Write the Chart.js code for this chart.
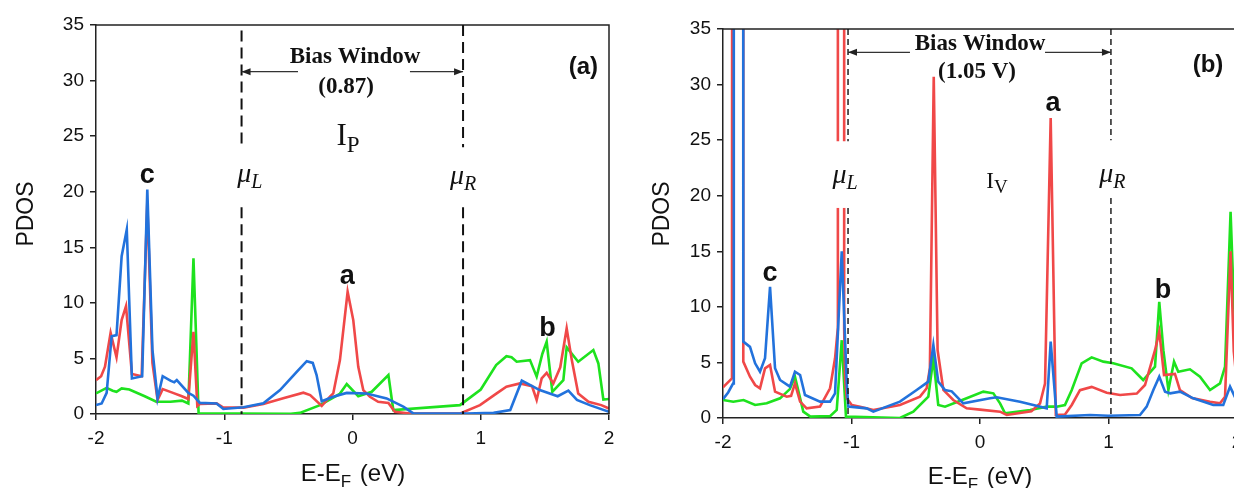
<!DOCTYPE html>
<html>
<head>
<meta charset="utf-8">
<script src="https://cdn.jsdelivr.net/npm/chart.js@4.4.0/dist/chart.umd.min.js"></script>
<style>
  html, body { margin: 0; padding: 0; background: #fff; overflow: hidden; }
  body { width: 1234px; height: 488px; position: relative; }
  canvas { position: absolute; top: 0; }
  #pdosA { left: 0; }
  #pdosB { left: 617px; }
</style>
</head>
<body>
<canvas id="pdosA" width="617" height="488"></canvas>
<canvas id="pdosB" width="640" height="488"></canvas>
<script>
// axis ticks shared by both panels
const energyTicks = [-2, -1, 0, 1, 2];
const pdosTicks = [0, 5, 10, 15, 20, 25, 30, 35];

// panel (a): [E - EF (eV), PDOS]
const blueA = [
    [-2, 0.8], [-1.956, 0.95], [-1.917, 1.9], [-1.878, 7.0], [-1.84, 7.1], [-1.8, 14.2], [-1.76, 16.6],
    [-1.72, 3.2], [-1.64, 3.4], [-1.6, 20.2], [-1.56, 5.8], [-1.52, 1.4], [-1.48, 3.4], [-1.42, 3.0],
    [-1.39, 2.85], [-1.37, 3.05], [-1.28, 1.9], [-1.24, 1.65], [-1.19, 1.0], [-1.06, 0.95], [-1.007, 0.45],
    [-0.85, 0.6], [-0.695, 0.96], [-0.565, 2.15], [-0.435, 3.8], [-0.357, 4.75], [-0.31, 4.6], [-0.28, 3.5],
    [-0.24, 1.15], [-0.15, 1.55], [-0.045, 1.9], [0.11, 1.85], [0.266, 1.4], [0.396, 0.66], [0.474, 0.05],
    [0.89, 0.05], [1.1, 0.1], [1.23, 0.36], [1.32, 3.0], [1.46, 2.15], [1.6, 1.6], [1.683, 2.1], [1.75, 1.26],
    [1.85, 0.8], [2.0, 0.2]
];
const redA = [
    [-2, 3.05], [-1.96, 3.4], [-1.93, 4.25], [-1.886, 7.3], [-1.84, 5.1], [-1.8, 8.45], [-1.766, 9.7],
    [-1.72, 3.6], [-1.644, 3.4], [-1.6, 19.0], [-1.56, 4.6], [-1.52, 1.26], [-1.48, 2.24], [-1.4, 1.9],
    [-1.33, 1.6], [-1.28, 1.35], [-1.24, 7.4], [-1.21, 0.72], [-1.19, 0.9], [-1.06, 0.96], [-1.007, 0.57],
    [-0.85, 0.57], [-0.695, 0.9], [-0.54, 1.41], [-0.383, 1.92], [-0.33, 1.7], [-0.24, 0.72], [-0.176, 1.56],
    [-0.15, 1.85], [-0.098, 4.85], [-0.038, 11.0], [0.006, 8.45], [0.045, 4.25], [0.084, 2.15], [0.136, 1.55],
    [0.2, 1.1], [0.28, 1.0], [0.33, 0.2], [0.45, 0.05], [0.84, 0.05], [0.994, 0.8], [1.124, 1.85], [1.2, 2.45],
    [1.306, 2.75], [1.4, 2.5], [1.436, 1.26], [1.475, 3.2], [1.514, 3.7], [1.566, 2.75], [1.62, 4.2],
    [1.67, 7.7], [1.71, 4.85], [1.76, 1.85], [1.84, 1.1], [1.94, 0.8], [2.0, 0.5]
];
const greenA = [
    [-2, 1.85], [-1.917, 2.35], [-1.87, 2.1], [-1.84, 2.0], [-1.8, 2.3], [-1.74, 2.2], [-1.62, 1.6],
    [-1.53, 1.1], [-1.42, 1.1], [-1.33, 1.2], [-1.28, 0.95], [-1.24, 14.0], [-1.2, 0.06], [-0.9, 0.03],
    [-0.48, 0.02], [-0.41, 0.1], [-0.253, 0.8], [-0.1, 1.8], [-0.045, 2.7], [0.045, 1.6], [0.15, 2.0],
    [0.28, 3.5], [0.318, 0.36], [0.838, 0.8], [1.0, 2.2], [1.12, 4.4], [1.2, 5.2], [1.24, 5.1], [1.28, 4.7],
    [1.384, 4.85], [1.436, 3.36], [1.48, 5.4], [1.514, 6.5], [1.558, 2.0], [1.644, 3.05], [1.67, 6.0],
    [1.76, 4.7], [1.878, 5.75], [1.917, 4.55], [1.956, 1.3], [2.0, 1.35]
];

// panel (b): [E - EF (eV), PDOS]; the 400 points run far above the axis top
const blueB = [
    [-2, 1.7], [-1.96, 2.3], [-1.922, 3.1], [-1.916, 400], [-1.846, 400], [-1.842, 6.87], [-1.79, 6.4],
    [-1.75, 4.92], [-1.712, 4.17], [-1.673, 5.37], [-1.634, 11.8], [-1.595, 4.47], [-1.556, 3.42],
    [-1.479, 2.82], [-1.44, 4.17], [-1.4, 3.87], [-1.362, 2.07], [-1.245, 1.47], [-1.167, 1.47],
    [-1.128, 2.22], [-1.076, 15.0], [-1.037, 3.12], [-1.025, 1.02], [-0.882, 0.87], [-0.83, 0.57],
    [-0.623, 1.47], [-0.493, 2.52], [-0.402, 3.27], [-0.363, 6.57], [-0.325, 3.27], [-0.272, 2.52],
    [-0.22, 2.4], [-0.13, 1.32], [0.078, 1.77], [0.13, 1.86], [0.311, 1.47], [0.415, 1.17], [0.519, 0.87],
    [0.55, 6.87], [0.597, 0.12], [0.856, 0.27], [1.0, 0.2], [1.245, 0.27], [1.297, 1.02], [1.349, 2.52],
    [1.395, 3.72], [1.44, 2.37], [1.48, 2.22], [1.556, 2.37], [1.66, 1.77], [1.815, 1.17], [1.893, 1.17],
    [1.946, 2.82], [2.0, 1.5]
];
const redB = [
    [-2, 2.75], [-1.93, 3.57], [-1.918, 400], [-1.846, 400], [-1.842, 5.07], [-1.79, 3.72], [-1.75, 2.97],
    [-1.712, 2.67], [-1.673, 4.47], [-1.634, 4.77], [-1.595, 2.37], [-1.504, 1.92], [-1.47, 2.0],
    [-1.44, 3.12], [-1.4, 1.47], [-1.349, 0.87], [-1.245, 1.02], [-1.167, 2.67], [-1.128, 5.37],
    [-1.107, 8.0], [-1.106, 400], [-1.058, 400], [-1.057, 8.0], [-1.05, 3.5], [-1.037, 1.77], [-0.998, 1.17],
    [-0.934, 1.02], [-0.83, 0.72], [-0.623, 1.17], [-0.467, 1.92], [-0.415, 2.67], [-0.39, 4.47],
    [-0.36, 30.7], [-0.33, 6.1], [-0.285, 2.52], [-0.208, 1.62], [-0.104, 0.87], [0.0, 0.75], [0.156, 0.57],
    [0.208, 0.27], [0.4, 0.6], [0.467, 1.3], [0.506, 3.1], [0.55, 27.0], [0.59, 0.27], [0.66, 0.3],
    [0.714, 1.17], [0.778, 2.5], [0.869, 2.8], [0.986, 2.28], [1.09, 2.07], [1.22, 2.2], [1.284, 2.97],
    [1.362, 6.1], [1.395, 7.77], [1.432, 3.87], [1.517, 3.96], [1.556, 2.5], [1.65, 1.8], [1.79, 1.47],
    [1.868, 1.32], [1.907, 1.92], [1.95, 15.0], [1.975, 6.0], [2.0, 3.0]
];
const greenB = [
    [-2, 1.62], [-1.92, 1.47], [-1.84, 1.62], [-1.75, 1.17], [-1.66, 1.32], [-1.556, 1.77], [-1.48, 2.6],
    [-1.44, 3.72], [-1.375, 0.57], [-1.32, 0.12], [-1.167, 0.17], [-1.115, 0.72], [-1.076, 7.0],
    [-1.043, 0.12], [-0.623, 0.0], [-0.519, 0.57], [-0.402, 1.92], [-0.363, 5.37], [-0.325, 1.17],
    [-0.272, 1.02], [-0.104, 1.77], [0.026, 2.37], [0.104, 2.22], [0.156, 1.32], [0.195, 0.42], [0.39, 0.72],
    [0.519, 1.02], [0.597, 1.02], [0.661, 1.17], [0.714, 2.52], [0.791, 4.92], [0.869, 5.46], [0.96, 5.07],
    [1.037, 4.92], [1.18, 4.47], [1.27, 3.42], [1.362, 4.62], [1.395, 10.46], [1.427, 6.1], [1.466, 2.52],
    [1.51, 5.07], [1.543, 4.17], [1.634, 4.38], [1.712, 3.72], [1.79, 2.52], [1.868, 3.12], [1.907, 4.62],
    [1.95, 18.56], [1.972, 11.5], [2.0, 5.0]
];

// chemical potentials of the leads
const muA = [-0.865, 0.862];
const muB = [-1.027, 1.019];

const SANS = '"Liberation Sans", Arial, sans-serif';
const SERIF = '"Liberation Serif", "Times New Roman", serif';
const BLUE = '#2272dc';
const RED = '#f04848';
const GREEN = '#1ee21e';

function toPoints(arr) {
    return arr.map(p => ({x: p[0], y: p[1]}));
}

// draws a run of text pieces (with optional subscripts) centred on cx
function drawPieces(ctx, pieces, cx, baseY) {
    let total = 0;
    pieces.forEach(p => { ctx.font = p.font; total += ctx.measureText(p.t).width + (p.gap || 0); });
    let px = cx - total / 2;
    ctx.textAlign = 'left';
    ctx.textBaseline = 'alphabetic';
    pieces.forEach(p => {
        ctx.font = p.font;
        ctx.fillText(p.t, px, baseY + (p.dy || 0));
        px += ctx.measureText(p.t).width + (p.gap || 0);
    });
}

function arrow(ctx, x1, x2, y, dir) {
    ctx.beginPath();
    ctx.moveTo(x1, y);
    ctx.lineTo(x2, y);
    ctx.stroke();
    const tip = dir < 0 ? x1 : x2;
    ctx.beginPath();
    ctx.moveTo(tip, y);
    ctx.lineTo(tip - dir * 9, y - 3.5);
    ctx.lineTo(tip - dir * 9, y + 3.5);
    ctx.closePath();
    ctx.fill();
}

const pdosMarks = {
    id: 'pdosMarks',
    afterDatasetsDraw(chart, args, o) {
        const {ctx, chartArea: a, scales: {x, y}} = chart;
        ctx.save();

        // top and right edges of the frame
        ctx.strokeStyle = '#222';
        ctx.lineWidth = 1.5;
        ctx.beginPath();
        ctx.moveTo(a.left, a.top);
        ctx.lineTo(a.right, a.top);
        ctx.lineTo(a.right, a.bottom);
        ctx.stroke();

        // white box behind the mu_L label
        if (o.mask) {
            const mx1 = x.getPixelForValue(o.mask[0]), mx2 = x.getPixelForValue(o.mask[1]);
            const my1 = y.getPixelForValue(o.mask[3]), my2 = y.getPixelForValue(o.mask[2]);
            ctx.fillStyle = '#fff';
            ctx.fillRect(mx1, my1, mx2 - mx1, my2 - my1);
        }

        // dashed mu_L / mu_R lines, broken around their labels
        ctx.strokeStyle = '#111';
        ctx.lineWidth = o.dashWidth;
        ctx.setLineDash(o.dash);
        o.mu.forEach((m, i) => {
            const px = x.getPixelForValue(m);
            o.muSegments[i].forEach(s => {
                ctx.beginPath();
                ctx.moveTo(px, y.getPixelForValue(s[0]));
                ctx.lineTo(px, y.getPixelForValue(s[1]));
                ctx.stroke();
            });
        });
        ctx.setLineDash([]);

        // bias window arrows
        ctx.strokeStyle = '#333';
        ctx.fillStyle = '#222';
        ctx.lineWidth = 1.3;
        const ay = y.getPixelForValue(o.arrowY);
        arrow(ctx, x.getPixelForValue(o.mu[0]), x.getPixelForValue(o.arrowGap[0]), ay, -1);
        arrow(ctx, x.getPixelForValue(o.arrowGap[1]), x.getPixelForValue(o.mu[1]), ay, 1);

        ctx.fillStyle = '#111';
        o.labels.forEach(l => {
            drawPieces(ctx, l.pieces, x.getPixelForValue(l.x), y.getPixelForValue(l.y));
        });

        // axis titles
        const yt = o.yTitle;
        ctx.save();
        ctx.translate(yt[0], yt[1]);
        ctx.rotate(-Math.PI / 2);
        ctx.font = '23px ' + SANS;
        ctx.textAlign = 'center';
        ctx.textBaseline = 'alphabetic';
        ctx.fillText('PDOS', 0, 0);
        ctx.restore();

        drawPieces(ctx, [
            {t: 'E-E', font: '24px ' + SANS},
            {t: 'F', font: '17px ' + SANS, dy: 6, gap: 2},
            {t: ' (eV)', font: '24px ' + SANS}
        ], o.xTitle[0], o.xTitle[1]);

        ctx.restore();
    }
};

function mu(sub) {
    return [
        {t: 'μ', font: 'italic 28px ' + SERIF},
        {t: sub, font: 'italic 20px ' + SERIF, dy: 6}
    ];
}
function bold(t, size) {
    return [{t: t, font: 'bold ' + size + 'px ' + SANS}];
}
function serifBold(t) {
    return [{t: t, font: 'bold 23px ' + SERIF}];
}

function buildPanel(canvasId, blue, red, green, layout, marks) {
    const tickFont = {family: SANS, size: 19};
    const lineSet = (data, color) => ({
        data: toPoints(data),
        borderColor: color,
        borderWidth: 2.6,
        pointRadius: 0,
        tension: 0,
        clip: 0
    });
    return new Chart(document.getElementById(canvasId), {
        type: 'line',
        data: {
            datasets: [lineSet(blue, BLUE), lineSet(red, RED), lineSet(green, GREEN)]
        },
        options: {
            responsive: false,
            animation: false,
            layout: {padding: layout.padding},
            plugins: {
                legend: {display: false},
                tooltip: {enabled: false},
                pdosMarks: marks
            },
            scales: {
                x: {
                    type: 'linear',
                    min: -2,
                    max: 2,
                    afterBuildTicks: s => { s.ticks = energyTicks.map(v => ({value: v})); },
                    afterFit: s => {
                        s.height = layout.xHeight;
                        s.paddingLeft = 0;
                        s.paddingRight = 0;
                    },
                    ticks: {font: tickFont, color: '#111', padding: 7, maxRotation: 0},
                    grid: {drawOnChartArea: false, drawTicks: true, tickLength: 6, color: '#222', lineWidth: 1.5},
                    border: {color: '#222', width: 1.5}
                },
                y: {
                    min: 0,
                    max: 35,
                    afterBuildTicks: s => { s.ticks = pdosTicks.map(v => ({value: v})); },
                    afterFit: s => {
                        s.width = layout.yWidth;
                        s.paddingTop = 0;
                        s.paddingBottom = 0;
                    },
                    ticks: {font: tickFont, color: '#111', padding: 6},
                    grid: {drawOnChartArea: false, drawTicks: true, tickLength: 6, color: '#222', lineWidth: 1.5},
                    border: {color: '#222', width: 1.5}
                }
            }
        },
        plugins: [pdosMarks]
    });
}

buildPanel('pdosA', blueA, redA, greenA,
    {padding: {top: 25, right: 8, left: 0, bottom: 0}, xHeight: 74, yWidth: 96},
    {
        mu: muA,
        muSegments: [[[34.5, 24.0], [18.6, 0]], [[35, 24.0], [18.6, 0]]],
        dash: [11, 6],
        dashWidth: 2,
        arrowY: 30.8,
        arrowGap: [-0.425, 0.448],
        yTitle: [33, 214],
        xTitle: [353, 481],
        labels: [
            {x: 0.02, y: 31.6, pieces: serifBold('Bias Window')},
            {x: -0.05, y: 28.9, pieces: serifBold('(0.87)')},
            {x: -0.035, y: 24.2, pieces: [
                {t: 'I', font: '31px ' + SERIF},
                {t: 'P', font: '23px ' + SERIF, dy: 7}
            ]},
            {x: -0.8, y: 20.9, pieces: mu('L')},
            {x: 0.862, y: 20.7, pieces: mu('R')},
            {x: -1.6, y: 20.8, pieces: bold('c', 27)},
            {x: -0.04, y: 11.7, pieces: bold('a', 27)},
            {x: 1.52, y: 7.0, pieces: bold('b', 27)},
            {x: 1.8, y: 30.6, pieces: bold('(a)', 24)}
        ]
    });

buildPanel('pdosB', blueB, redB, greenB,
    {padding: {top: 29, right: 20, left: 0, bottom: 0}, xHeight: 70, yWidth: 106},
    {
        mu: muB,
        muSegments: [[[35, 24.9], [18.9, 0]], [[35, 25.0], [19.8, 0]]],
        mask: [-1.13, -0.93, 18.9, 24.9],
        dash: [6, 4],
        dashWidth: 1.4,
        arrowY: 32.9,
        arrowGap: [-0.545, 0.506],
        yTitle: [52, 214],
        xTitle: [363, 484],
        labels: [
            {x: 0.0, y: 33.1, pieces: serifBold('Bias Window')},
            {x: -0.023, y: 30.6, pieces: serifBold('(1.05 V)')},
            {x: 0.132, y: 20.7, pieces: [
                {t: 'I', font: '23px ' + SERIF},
                {t: 'V', font: '19px ' + SERIF, dy: 5}
            ]},
            {x: -1.05, y: 21.1, pieces: mu('L')},
            {x: 1.03, y: 21.2, pieces: mu('R')},
            {x: -1.634, y: 12.3, pieces: bold('c', 27)},
            {x: 0.568, y: 27.6, pieces: bold('a', 27)},
            {x: 1.424, y: 10.8, pieces: bold('b', 27)},
            {x: 1.774, y: 31.1, pieces: bold('(b)', 24)}
        ]
    });
</script>
</body>
</html>
